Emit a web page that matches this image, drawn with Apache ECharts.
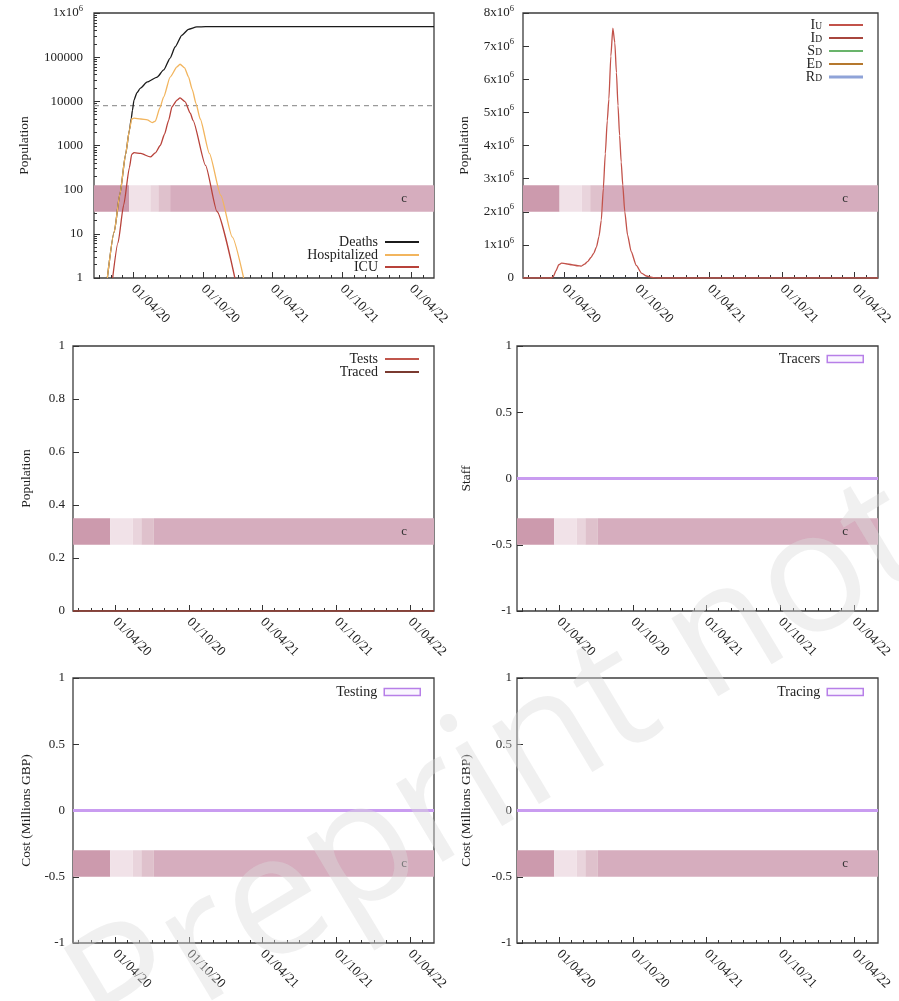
<!DOCTYPE html>
<html><head><meta charset="utf-8">
<script src="https://cdn.jsdelivr.net/npm/echarts@6/dist/echarts.min.js"></script>
<style>html,body{margin:0;padding:0;background:#fff}#c{width:899px;height:1001px}</style>
</head><body><div id="c"></div>
<script>
// ===== DATA =====
// x axis: dates (day numbers counted from 2020-01-01)
const xMinDate = '2019-12-19';
const xMaxDate = '2022-05-30';
const xLabelDates = ['2020-04-01', '2020-10-01', '2021-04-01', '2021-10-01', '2022-04-01'];
const xLabels = ['01/04/20', '01/10/20', '01/04/21', '01/10/21', '01/04/22'];

// Panel 1 (log scale)
const deathsDays = [22, 40, 55, 70, 80, 85, 88, 92, 100, 109, 127, 153, 170, 187, 200, 218, 235, 257, 280, 880];
const deathsVals = [1, 11, 79, 630, 2240, 4170, 6300, 10700, 15800, 20000, 27500, 35500, 51300, 95500, 170000, 316000, 427000, 484000, 490000, 490000];
const hospDays = [22, 40, 55, 70, 80, 86, 92, 110, 127, 140, 148, 160, 170, 187, 205, 213, 225, 235, 245, 255, 266, 290, 320, 350, 380];
const hospVals = [1, 11, 79, 630, 2240, 3980, 4170, 3980, 3800, 3310, 3550, 7080, 12600, 35500, 60300, 69200, 57500, 36300, 18600, 8900, 3980, 660, 74, 8.5, 1];
const icuDays = [36, 50, 65, 80, 86, 92, 110, 135, 148, 161, 172, 183, 192, 205, 213, 226, 240, 247, 280, 310, 357];
const icuVals = [1, 6.3, 45, 316, 630, 690, 660, 550, 680, 1000, 1780, 3720, 7590, 10700, 12000, 9800, 5370, 3720, 355, 32, 1];
const icuCapacity = 8000;
const logTicks = [1, 10, 100, 1000, 10000, 100000, 1000000];

// Panel 2 (millions)
const iuDays = [-13, 58, 63, 70, 77, 84, 95, 110, 125, 134, 142, 150, 158, 165, 172, 178, 184, 189, 194, 199, 203, 208, 213, 218, 222, 226, 230, 234, 238, 243, 250, 259, 272, 285, 297, 315, 330, 880];
const iuValsM = [0, 0, 0.04, 0.22, 0.4, 0.45, 0.43, 0.4, 0.37, 0.36, 0.42, 0.5, 0.62, 0.75, 0.94, 1.25, 1.75, 2.7, 3.75, 4.75, 5.4, 6.7, 7.54, 7.1, 6.2, 5.2, 4.3, 3.5, 2.8, 2.0, 1.3, 0.8, 0.38, 0.15, 0.06, 0.01, 0, 0];
const flatDays = [-13, 880];
const idVals = [0, 0], sdVals = [0, 0], edVals = [0, 0], rdVals = [0, 0];

// Panels 3-6 (all flat at zero)
const testsVals = [0, 0], tracedVals = [0, 0];
const tracersVals = [0, 0];
const testingCostVals = [0, 0];
const tracingCostVals = [0, 0];

// Policy band ("c"): start dates and intensity levels
const policyStartDates = ['2019-12-19', '2020-03-20', '2020-05-15', '2020-06-05', '2020-07-06'];
const policyLevels = [5, 1, 2, 3, 4];

// ===== STYLE / LAYOUT =====
const F = "'Liberation Serif','DejaVu Serif',serif";
const levelColors = {1: '#f1e2e8', 2: '#e9d4dc', 3: '#dfc1cc', 4: '#d6adbe', 5: '#cc9aad'};
const DAY0 = Date.UTC(2020, 0, 1);
function dayOf(s) { const [y, m, d] = s.split('-').map(Number); return (Date.UTC(y, m - 1, d) - DAY0) / 86400000; }
const xMin = dayOf(xMinDate), xMax = dayOf(xMaxDate);
const labelDays = xLabelDates.map(dayOf);
const monthDays = [];
for (let y = 2019; y <= 2022; y++) for (let m = 0; m < 12; m++) {
  const d = (Date.UTC(y, m, 1) - DAY0) / 86400000;
  if (d > xMin && d < xMax && !labelDays.includes(d)) monthDays.push(d);
}
const policyDays = policyStartDates.map(dayOf);

const gridBoxes = [
  {left: 94, top: 13, width: 340, height: 265},
  {left: 523, top: 13, width: 355, height: 265},
  {left: 73, top: 346, width: 361, height: 265},
  {left: 517, top: 346, width: 361, height: 265},
  {left: 73, top: 678, width: 361, height: 265},
  {left: 517, top: 678, width: 361, height: 265}
];
const TC = '#333';
const grid = gridBoxes.map(g => Object.assign({show: true, borderColor: '#3c3c3c', borderWidth: 1.3, containLabel: false, outerBoundsMode: 'none'}, g));
const noLine = {show: false, onZero: false};

const xAxis = [], yAxis = [];
gridBoxes.forEach((g, i) => {
  xAxis.push({type: 'value', gridIndex: i, min: xMin, max: xMax, position: 'bottom',
    axisLine: noLine, splitLine: {show: false},
    axisTick: {inside: true, length: 6, customValues: labelDays, lineStyle: {color: TC}},
    axisLabel: {customValues: labelDays, formatter: v => xLabels[labelDays.indexOf(v)], rotate: -45,
      fontFamily: F, fontSize: 13.5, color: '#222', margin: 9}});
  xAxis.push({type: 'value', gridIndex: i, min: xMin, max: xMax, position: 'bottom',
    axisLine: noLine, splitLine: {show: false}, axisLabel: {show: false},
    axisTick: {inside: true, length: 3, customValues: monthDays, lineStyle: {color: TC}}});
});

const supRich = {b: {fontFamily: F, fontSize: 13, color: '#222', lineHeight: 18}, s: {fontFamily: F, fontSize: 8.5, color: '#222', verticalAlign: 'top', lineHeight: 9}};
const lbl = (extra) => Object.assign({fontFamily: F, fontSize: 13, color: '#222'}, extra);
const nameStyle = {fontFamily: F, fontSize: 13.5, color: '#222'};

// grid 0: log
const logMinor = [];
for (let k = 0; k < 6; k++) for (let m = 2; m <= 9; m++) logMinor.push(m * Math.pow(10, k));
yAxis.push({type: 'log', logBase: 10, gridIndex: 0, min: 1, max: 1e6, name: 'Population', nameLocation: 'middle', nameGap: 63, nameTextStyle: nameStyle,
  axisLine: noLine, splitLine: {show: false},
  axisTick: {inside: true, length: 6, customValues: logTicks, lineStyle: {color: TC}},
  axisLabel: lbl({customValues: logTicks, margin: 11, formatter: v => v >= 1e6 ? '{b|1x10}{s|6}' : String(Math.round(v)), rich: supRich})});
yAxis.push({type: 'log', logBase: 10, gridIndex: 0, min: 1, max: 1e6, position: 'left', axisLine: noLine, splitLine: {show: false}, axisLabel: {show: false},
  axisTick: {inside: true, length: 3, customValues: logMinor, lineStyle: {color: TC}}});
// grid 1
yAxis.push({type: 'value', gridIndex: 1, min: 0, max: 8e6, interval: 1e6, name: 'Population', nameLocation: 'middle', nameGap: 52, nameTextStyle: nameStyle,
  axisLine: noLine, splitLine: {show: false},
  axisTick: {inside: true, length: 6, lineStyle: {color: TC}},
  axisLabel: lbl({margin: 9, formatter: v => v === 0 ? '0' : '{b|' + Math.round(v / 1e6) + 'x10}{s|6}', rich: supRich})});
// grid 2
yAxis.push({type: 'value', gridIndex: 2, min: 0, max: 1, interval: 0.2, name: 'Population', nameLocation: 'middle', nameGap: 40, nameTextStyle: nameStyle,
  axisLine: noLine, splitLine: {show: false},
  axisTick: {inside: true, length: 6, lineStyle: {color: TC}}, axisLabel: lbl({margin: 8})});
// grids 3-5
const yNames = ['Staff', 'Cost (Millions GBP)', 'Cost (Millions GBP)'];
const yGaps = [44, 40, 44];
[3, 4, 5].forEach((gi, k) => {
  yAxis.push({type: 'value', gridIndex: gi, min: -1, max: 1, interval: 0.5, name: yNames[k], nameLocation: 'middle', nameGap: yGaps[k], nameTextStyle: nameStyle,
    axisLine: noLine, splitLine: {show: false},
    axisTick: {inside: true, length: 6, lineStyle: {color: TC}}, axisLabel: lbl({margin: gi === 4 ? 8 : 5})});
});
const yIdx = [0, 2, 3, 4, 5, 6];

const zip = (a, b, f) => a.map((d, i) => [d, f ? f(b[i]) : b[i]]);
const series = [];
function line(name, gi, days, vals, color, width, extra) {
  series.push(Object.assign({name, type: 'line', xAxisIndex: gi * 2, yAxisIndex: yIdx[gi], data: zip(days, vals),
    showSymbol: false, symbol: 'none', smooth: 0.2, smoothMonotone: 'x', z: 5,
    lineStyle: {color, width}, itemStyle: {color}}, extra || {}));
}

// band per grid
gridBoxes.forEach((g, gi) => {
  const ya = yAxis[yIdx[gi]];
  let lo, hi;
  if (ya.type === 'log') { const a = Math.log10(ya.min), b = Math.log10(ya.max); lo = Math.pow(10, a + 0.25 * (b - a)); hi = Math.pow(10, a + 0.35 * (b - a)); }
  else { lo = ya.min + 0.25 * (ya.max - ya.min); hi = ya.min + 0.35 * (ya.max - ya.min); }
  const segs = policyDays.map((d, k) => {
    const end = k + 1 < policyDays.length ? policyDays[k + 1] : xMax;
    const isLast = k === policyDays.length - 1;
    return [{xAxis: d, yAxis: lo, itemStyle: {color: levelColors[policyLevels[k]], borderWidth: 0},
      label: isLast ? {show: true, position: 'insideRight', distance: gi % 2 === 0 ? 27 : 30, formatter: 'c', fontFamily: F, fontSize: 13, color: '#333'} : {show: false}},
      {xAxis: end, yAxis: hi}];
  });
  series.push({type: 'line', name: 'band' + gi, xAxisIndex: gi * 2, yAxisIndex: yIdx[gi], data: [], z: 1, silent: true,
    markArea: {silent: true, z: 1, data: segs}});
});

// panel 1
line('capacity', 0, flatDays, [icuCapacity, icuCapacity], '#999', 1.2, {lineStyle: {color: '#9a9a9a', width: 1.2, type: [5, 4]}, smooth: false, z: 3});
line('Deaths', 0, deathsDays, deathsVals, '#1b1b1b', 1.3);
line('Hospitalized', 0, hospDays, hospVals, '#f2b55e', 1.3);
line('ICU', 0, icuDays, icuVals, '#b8423a', 1.3);
// panel 2
line('I_D', 1, flatDays, idVals, '#a8463e', 1.3, {smooth: false});
line('S_D', 1, flatDays, sdVals, '#69b46b', 1.3, {smooth: false});
line('E_D', 1, flatDays, edVals, '#b5782e', 1.3, {smooth: false});
line('R_D', 1, flatDays, rdVals, '#2b3a5c', 1.3, {smooth: false});
line('I_U', 1, iuDays, iuValsM.map(v => v * 1e6), '#c2524a', 1.3);
// panel 3
line('Tests', 2, flatDays, testsVals, '#c0564c', 1.3, {smooth: false});
line('Traced', 2, flatDays, tracedVals, '#7a3a30', 1.5, {smooth: false});
// panels 4-6
line('Tracers', 3, flatDays, tracersVals, '#c99cf0', 3, {smooth: false});
line('Testing', 4, flatDays, testingCostVals, '#c99cf0', 3, {smooth: false});
line('Tracing', 5, flatDays, tracingCostVals, '#c99cf0', 3, {smooth: false});

// legends
const legendColorsOverride = {R_D: '#8fa3d8'};
const subRich = {n: {fontFamily: F, fontSize: 14, color: '#222', lineHeight: 13}, s: {fontFamily: F, fontSize: 9.5, color: '#222', verticalAlign: 'bottom', lineHeight: 7}};
const legend = [];
function leg(name, right, cy, boxStyle) {
  const isBox = !!boxStyle;
  const l = {data: [name], orient: 'horizontal', right, top: cy - 7, align: 'right', itemGap: 0, padding: 0,
    icon: 'rect', itemWidth: isBox ? 36 : 34, itemHeight: isBox ? 7 : 2, selectedMode: false,
    textStyle: {fontFamily: F, fontSize: 14, lineHeight: 14, color: '#222', padding: [0, 2, 0, 0], rich: subRich},
    formatter: n => n.indexOf('_') > 0 ? '{n|' + n.split('_')[0] + '}{s|' + n.split('_')[1] + '}' : n};
  if (isBox) l.itemStyle = {color: '#faf6ff', borderColor: '#b77fe8', borderWidth: 1.5};
  else if (legendColorsOverride[name]) l.itemStyle = {color: legendColorsOverride[name]};
  if (name === 'R_D') { l.itemHeight = 3; }
  legend.push(l);
}
leg('Deaths', 480, 242);
leg('Hospitalized', 480, 255);
leg('ICU', 480, 267);
leg('I_U', 36, 25);
leg('I_D', 36, 38);
leg('S_D', 36, 51);
leg('E_D', 36, 64);
leg('R_D', 36, 77);
leg('Tests', 480, 359);
leg('Traced', 480, 372);
leg('Tracers', 35, 359, true);
leg('Testing', 478, 692, true);
leg('Tracing', 35, 692, true);

const chart = echarts.init(document.getElementById('c'), null, {renderer: 'canvas'});
chart.setOption({
  animation: false,
  backgroundColor: '#fff',
  grid, xAxis, yAxis, series, legend,
  graphic: [{type: 'text', x: 87, y: 1019, rotation: 31 * Math.PI / 180, z: 100, silent: true,
    style: {text: 'Preprint not peer reviewed', fontFamily: "'Open Sans'", fontSize: 170, fill: 'rgba(220,220,220,0.42)', verticalAlign: 'middle', align: 'left'}}]
});
</script></body></html>
